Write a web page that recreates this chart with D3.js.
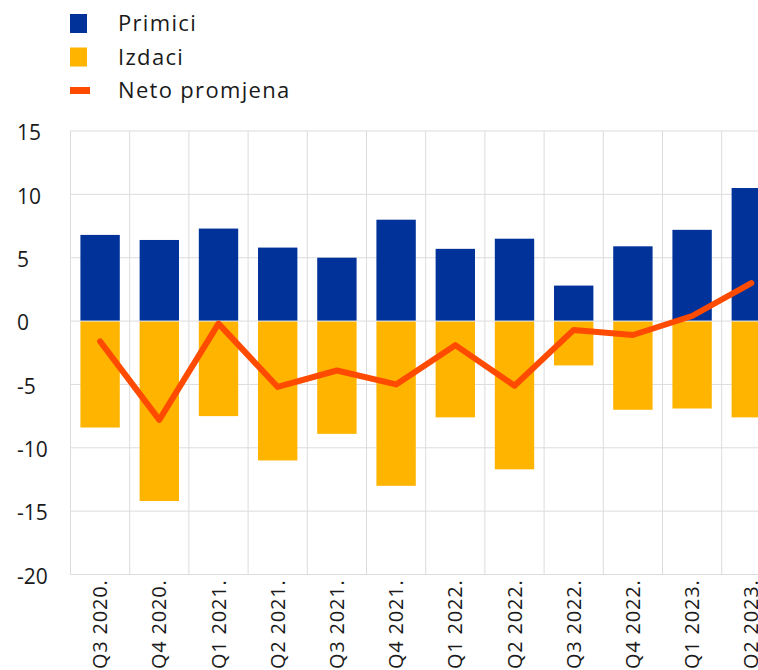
<!DOCTYPE html>
<html>
<head>
<meta charset="utf-8">
<script src="https://cdn.jsdelivr.net/npm/d3@7"></script>
<style>
  body { margin: 0; background: #fff; }
  svg { display: block; font-family: "Open Sans", sans-serif; }
</style>
</head>
<body>
<div id="chart"></div>
<script>
// quarters and series
const quarters = ['Q3 2020.', 'Q4 2020.', 'Q1 2021.', 'Q2 2021.', 'Q3 2021.', 'Q4 2021.',
                  'Q1 2022.', 'Q2 2022.', 'Q3 2022.', 'Q4 2022.', 'Q1 2023.', 'Q2 2023.'];
const primici = [6.8, 6.4, 7.3, 5.8, 5.0, 8.0, 5.7, 6.5, 2.8, 5.9, 7.2, 10.5];
const izdaci = [-8.4, -14.2, -7.5, -11.0, -8.9, -13.0, -7.6, -11.7, -3.5, -7.0, -6.9, -7.6];
const neto = [-1.6, -7.8, -0.2, -5.2, -3.9, -5.0, -1.9, -5.1, -0.7, -1.1, 0.4, 3.0];
const yTicks = [15, 10, 5, 0, -5, -10, -15, -20];

const legendItems = [
    { label: 'Primici', color: '#003299', type: 'box' },
    { label: 'Izdaci', color: '#FFB400', type: 'box' },
    { label: 'Neto promjena', color: '#FF4B00', type: 'line' }
];

const width = 758, height = 670;
const plotLeft = 70.5, plotTop = 131, plotBottom = 574.5;
const bandW = 59.2;

const svg = d3.select('#chart').append('svg')
    .attr('width', width)
    .attr('height', height);

const x = d3.scaleBand()
    .domain(quarters)
    .range([plotLeft, plotLeft + bandW * quarters.length])
    .paddingInner(0.335)
    .paddingOuter(0.1675);

const y = d3.scaleLinear()
    .domain([-20, 15])
    .range([plotBottom, plotTop]);

const grid = svg.append('g').attr('class', 'grid');

// horizontal gridlines
grid.selectAll('line.h')
    .data(yTicks)
    .enter().append('line')
    .attr('class', 'h')
    .attr('x1', plotLeft)
    .attr('x2', width)
    .attr('y1', d => y(d))
    .attr('y2', d => y(d))
    .attr('stroke', '#dcdcdc')
    .attr('stroke-width', 1);

// vertical gridlines at band edges
const edges = quarters.map(q => x(q) - x.step() * x.paddingInner() / 2);
edges.push(plotLeft + bandW * quarters.length);
grid.selectAll('line.v')
    .data(edges)
    .enter().append('line')
    .attr('class', 'v')
    .attr('x1', d => d)
    .attr('x2', d => d)
    .attr('y1', plotTop)
    .attr('y2', plotBottom)
    .attr('stroke', '#dcdcdc')
    .attr('stroke-width', 1);

// y tick labels
svg.append('g').selectAll('text')
    .data(yTicks)
    .enter().append('text')
    .attr('x', 17)
    .attr('y', d => y(d) + 2)
    .attr('dy', '0.35em')
    .style('font-size', '21px')
    .style('fill', '#1a1a1a')
    .text(d => d);

// bars
svg.append('g').selectAll('rect')
    .data(primici)
    .enter().append('rect')
    .attr('x', (d, i) => x(quarters[i]))
    .attr('width', x.bandwidth())
    .attr('y', d => y(d))
    .attr('height', d => y(0) - y(d) - 0.5)
    .attr('fill', '#003299');

svg.append('g').selectAll('rect')
    .data(izdaci)
    .enter().append('rect')
    .attr('x', (d, i) => x(quarters[i]))
    .attr('width', x.bandwidth())
    .attr('y', y(0) + 0.5)
    .attr('height', d => y(d) - y(0) - 0.5)
    .attr('fill', '#FFB400');

// net line
const line = d3.line()
    .x((d, i) => x(quarters[i]) + x.bandwidth() / 2)
    .y(d => y(d));

svg.append('path')
    .datum(neto)
    .attr('d', line)
    .attr('fill', 'none')
    .attr('stroke', '#FF4B00')
    .attr('stroke-width', 6)
    .attr('stroke-linejoin', 'round')
    .attr('stroke-linecap', 'round');

// x labels, rotated
svg.append('g').selectAll('text')
    .data(quarters)
    .enter().append('text')
    .attr('transform', d => `translate(${x(d) + x.bandwidth() / 2},${plotBottom + 5}) rotate(-90)`)
    .attr('text-anchor', 'end')
    .attr('dy', '0.35em')
    .style('font-size', '20px')
    .style('letter-spacing', '0.04em')
    .style('fill', '#1a1a1a')
    .text(d => d);

// legend
const legend = svg.append('g').attr('class', 'legend');
legendItems.forEach((item, i) => {
    const cy = 23.5 + i * 33.5;
    if (item.type === 'box') {
        legend.append('rect')
            .attr('x', 70).attr('y', cy - 9.5)
            .attr('width', 17).attr('height', 19)
            .attr('fill', item.color);
    } else {
        legend.append('rect')
            .attr('x', 70).attr('y', cy - 3.5)
            .attr('width', 20).attr('height', 7)
            .attr('fill', item.color);
    }
    legend.append('text')
        .attr('x', 118)
        .attr('y', cy)
        .attr('dy', '0.35em')
        .style('font-size', '22px')
        .style('letter-spacing', '0.06em')
        .style('fill', '#1a1a1a')
        .text(item.label);
});
</script>
</body>
</html>
